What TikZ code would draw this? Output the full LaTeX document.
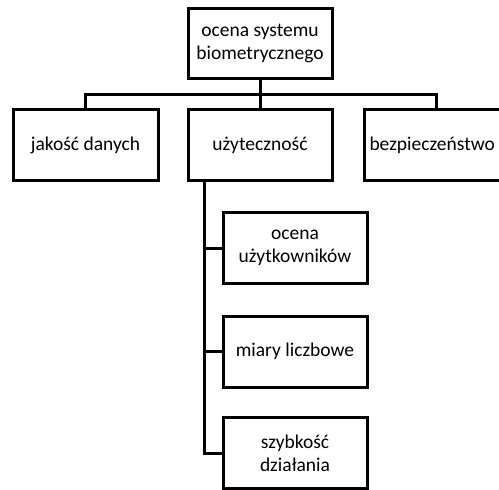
\documentclass[tikz,border=0pt]{standalone}
\usepackage{fontspec}
\setmainfont{Carlito}
\begin{document}
\begin{tikzpicture}[x=1pt,y=-1pt,
  box/.style={draw=black,line width=3pt,fill=white,minimum width=144pt,minimum height=71pt,
    align=center,inner sep=2pt,font=\fontsize{19.5}{23}\selectfont},
  link/.style={draw=black,line width=3pt}]
  \useasboundingbox (0,0) rectangle (499,490);
  \clip (0,0) rectangle (499,490);
  % root and first level
  \node[box,minimum height=70pt] (root) at (260,43.5) {ocena systemu\\biometrycznego};
  \node[box,minimum width=145pt] (jak) at (85.5,145) {jakość danych};
  \node[box] (uzy) at (260,145) {użyteczność};
  % this box runs past the right margin; its text is set flush left
  \node[box,anchor=west,minimum width=0pt,text width=150pt,align=left,inner xsep=5pt]
    (bez) at (363,145) {bezpieczeństwo};
  % second level under "użyteczność"
  \node[box] (s1) at (295,248) {ocena\\użytkowników};
  \node[box] (s2) at (295,351.5) {miary liczbowe};
  \node[box] (s3) at (295,453) {szybkość\\działania};
  % connectors
  \coordinate (bus) at (260,94);
  \coordinate (spine) at (204,0);
  \coordinate (bezTop) at ([xshift=73pt]bez.north west);
  \draw[link] (root.south) -- (uzy.north);
  \draw[link] (jak.north) |- (bus) -| (bezTop);
  \draw[link] (uzy.south -| spine) |- (s3.west);
  \draw[link] (s1.west) -- (s1.west -| spine);
  \draw[link] (s2.west) -- (s2.west -| spine);
\end{tikzpicture}
\end{document}
